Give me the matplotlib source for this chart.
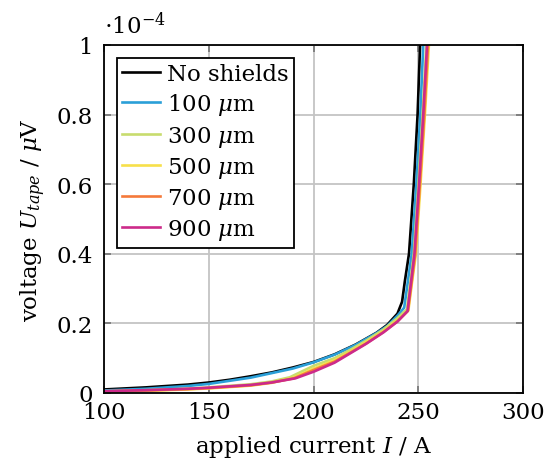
import matplotlib
matplotlib.use("Agg")
import matplotlib.pyplot as plt

# Tape voltage (in units of 1e-4 µV) versus applied current (A)
labels = ["No shields", r"100 $\mu$m", r"300 $\mu$m", r"500 $\mu$m", r"700 $\mu$m", r"900 $\mu$m"]
colors = ["#000000", "#2a9fd8", "#c8dc6e", "#f7e04a", "#f5793a", "#cc2a8a"]

current_none = [100, 120, 140, 150, 160, 170, 180, 190, 200, 210, 220, 230, 235, 240, 242.2, 243.5, 245.5, 247.8, 249.6, 250.8]
voltage_none = [0.010, 0.016, 0.024, 0.030, 0.038, 0.048, 0.059, 0.073, 0.089, 0.111, 0.139, 0.173, 0.195, 0.228, 0.262, 0.32, 0.40, 0.60, 0.80, 1.00]

current_100 = [100, 120, 140, 150, 170, 190, 200, 210, 220, 230, 235, 240, 243.2, 244.5, 246.8, 249.0, 250.9, 252.3]
voltage_100 = [0.007, 0.012, 0.020, 0.026, 0.044, 0.070, 0.088, 0.110, 0.138, 0.172, 0.192, 0.222, 0.245, 0.30, 0.40, 0.60, 0.80, 1.00]

current_300 = [100, 120, 140, 150, 170, 180, 188.6, 200, 210, 217.5, 225, 233.3, 240, 244.5, 246.2, 247.8, 250.0, 252.0, 253.8]
voltage_300 = [0.005, 0.008, 0.012, 0.016, 0.025, 0.033, 0.045, 0.078, 0.100, 0.124, 0.150, 0.182, 0.215, 0.240, 0.32, 0.40, 0.60, 0.80, 1.00]

current_500 = [100, 120, 140, 150, 170, 180, 190, 200, 210, 217.5, 225, 233.3, 240, 245.2, 247.0, 248.8, 251.0, 253.1, 255.0]
voltage_500 = [0.003, 0.006, 0.010, 0.013, 0.021, 0.029, 0.043, 0.070, 0.094, 0.118, 0.145, 0.177, 0.208, 0.237, 0.32, 0.40, 0.60, 0.80, 1.00]

current_700 = [100, 120, 140, 150, 170, 180, 190.5, 200, 210, 217.5, 225, 233.3, 240, 245.0, 246.8, 248.5, 250.7, 252.8, 254.6]
voltage_700 = [0.004, 0.007, 0.011, 0.014, 0.022, 0.030, 0.042, 0.066, 0.090, 0.116, 0.142, 0.175, 0.206, 0.236, 0.32, 0.40, 0.60, 0.80, 1.00]

current_900 = [100, 120, 140, 150, 170, 180, 191.3, 200, 210, 217.5, 225, 233.3, 240, 244.8, 246.5, 248.1, 250.3, 252.3, 254.1]
voltage_900 = [0.005, 0.008, 0.012, 0.015, 0.023, 0.030, 0.042, 0.061, 0.087, 0.114, 0.141, 0.174, 0.205, 0.235, 0.32, 0.40, 0.60, 0.80, 1.00]

currents = [current_none, current_100, current_300, current_500, current_700, current_900]
voltages = [voltage_none, voltage_100, voltage_300, voltage_500, voltage_700, voltage_900]

x_ticks = [100, 150, 200, 250, 300]
y_ticks = [0, 0.2, 0.4, 0.6, 0.8, 1]
y_tick_labels = ["0", "0.2", "0.4", "0.6", "0.8", "1"]

plt.rcParams["font.family"] = ["DejaVu Serif"]
plt.rcParams["mathtext.fontset"] = "dejavuserif"
FS = 16.5

fig = plt.figure(figsize=(5.45, 4.64), dpi=100)
ax = fig.add_axes([0.191, 0.151, 0.769, 0.750])

for x, y, c, lab in zip(currents, voltages, colors, labels):
    ax.plot(x, y, color=c, lw=1.9, label=lab, solid_joinstyle="round")

ax.set_xlim(100, 300)
ax.set_ylim(0, 1)
ax.set_xticks(x_ticks)
ax.set_yticks(y_ticks)
ax.set_yticklabels(y_tick_labels)
ax.grid(True, color="#c4c4c4", lw=1.3)
ax.set_axisbelow(True)
ax.tick_params(direction="in", length=5, width=1.3, color="#7a7a7a",
               top=True, right=True, labelsize=FS)
ax.tick_params(axis="x", pad=6)
ax.tick_params(axis="y", pad=8)
for s in ax.spines.values():
    s.set_linewidth(1.3)
    s.set_color("black")

ax.set_xlabel(r"applied current $I$ / A", fontsize=FS, labelpad=7)
ax.set_ylabel(r"voltage $U_{tape}$ / $\mu$V", fontsize=FS, labelpad=6)
ax.text(0.0, 1.02, r"$\cdot 10^{-4}$", transform=ax.transAxes, fontsize=FS,
        ha="left", va="bottom")

leg = ax.legend(loc="upper left", fontsize=FS, frameon=True, fancybox=False,
                edgecolor="black", framealpha=1, handlelength=1.65,
                handletextpad=0.3, labelspacing=0.27, borderpad=0.25,
                borderaxespad=0.55)
leg.get_frame().set_linewidth(1.3)

fig.savefig("out.png", dpi=100)
